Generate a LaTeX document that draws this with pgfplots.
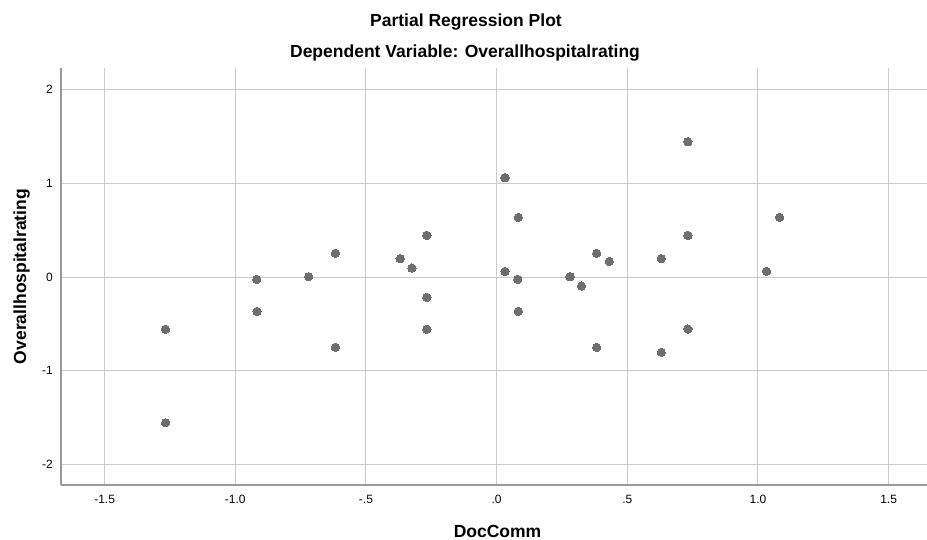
\documentclass[border=0pt]{standalone}
\usepackage{fontspec}
\setmainfont{Liberation Sans}
\usepackage{pgfplots}
\pgfplotsset{compat=1.18}
\definecolor{ptc}{HTML}{6E6E6E}
\definecolor{axc}{HTML}{9A9A9A}
\definecolor{grc}{HTML}{CACACA}
\begin{document}
\begin{tikzpicture}
\useasboundingbox (-61bp,-55bp) rectangle (866bp,485bp);
\begin{axis}[
  name=ax,
  at={(0,0)}, anchor=south west,
  scale only axis,
  width=866bp, height=417bp,
  xmin=-1.667, xmax=1.647,
  ymin=-2.221, ymax=2.232,
  axis lines*=left,
  axis line style={color=axc, line width=1.6bp},
  xtick={-1.5,-1,-0.5,0,0.5,1,1.5},
  xticklabels={-1.5,-1.0,-.5,.0,.5,1.0,1.5},
  ytick={-2,-1,0,1,2},
  yticklabels={-2,-1,0,1,2},
  major tick length=0pt,
  grid=major,
  major grid style={color=grc, line width=1bp},
  xticklabel style={font=\fontsize{12bp}{14bp}\selectfont, inner sep=0pt, anchor=base, yshift=-18.5bp},
  yticklabel style={font=\fontsize{12bp}{14bp}\selectfont, inner sep=0pt, anchor=east, xshift=-8bp},
  clip=false,
]
\addplot[only marks, color=ptc, mark=*, mark size=4.2bp, mark options={fill=ptc, draw=ptc, line width=0pt}] coordinates {
(-1.267,-0.558) (-1.267,-1.556)
(-0.918,-0.025) (-0.917,-0.367)
(-0.719,0.003)
(-0.617,0.253) (-0.617,-0.751)
(-0.369,0.196) (-0.324,0.096)
(-0.267,0.445) (-0.267,-0.217) (-0.267,-0.558)
(0.032,1.060) (0.083,0.637) (0.032,0.060) (0.081,-0.025) (0.083,-0.367)
(0.281,0.003) (0.325,-0.096)
(0.383,0.253) (0.431,0.167) (0.383,-0.751)
(0.732,1.445) (0.732,0.445) (0.630,0.196) (0.732,-0.555) (0.630,-0.804)
(1.083,0.637) (1.033,0.060)
};
\end{axis}
\node[anchor=base, font=\bfseries\fontsize{17.5bp}{20bp}\selectfont] at (405bp,458bp) {Partial Regression Plot};
\node[anchor=base, font=\bfseries\fontsize{17.5bp}{20bp}\selectfont] at (404bp,427bp) {Dependent Variable: Overallhospitalrating};
\node[anchor=base, font=\bfseries\fontsize{17.5bp}{20bp}\selectfont] at (436.5bp,-52bp) {DocComm};
\node[anchor=base, rotate=90, font=\bfseries\fontsize{17.5bp}{20bp}\selectfont] at (-35bp,208.5bp) {Overallhospitalrating};
\end{tikzpicture}
\end{document}
